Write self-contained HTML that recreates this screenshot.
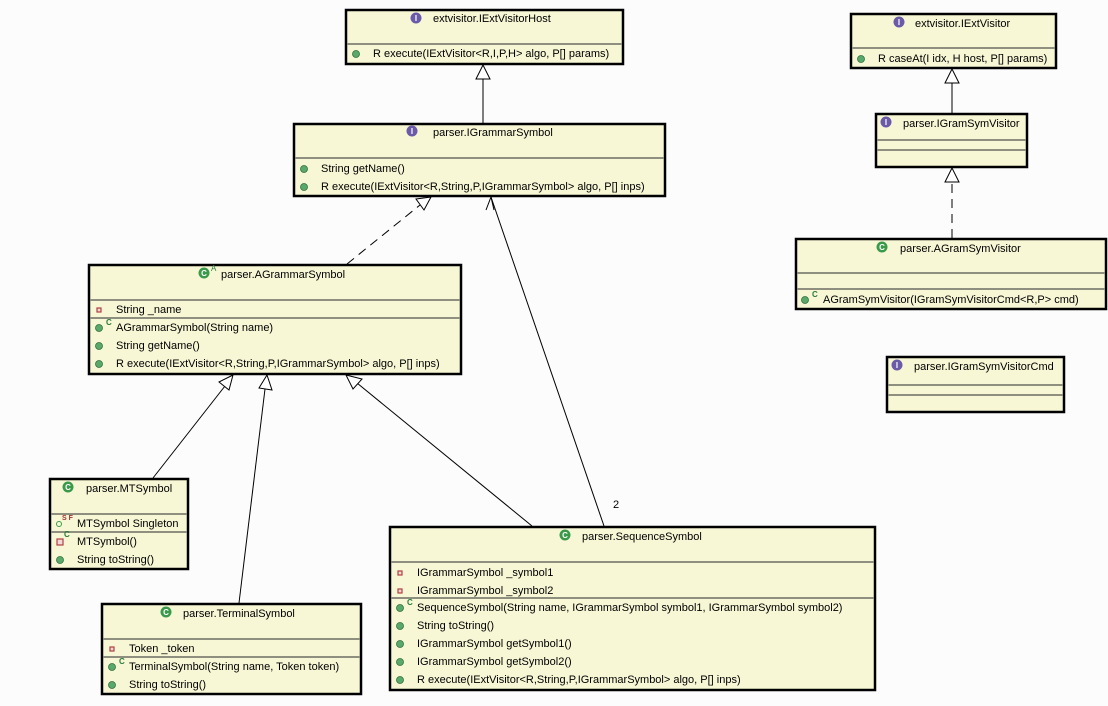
<!DOCTYPE html>
<html><head><meta charset="utf-8"><style>
body{margin:0;background:#fcfcfc;}
svg{display:block;font-family:"Liberation Sans",sans-serif;font-size:11px;}
.b{fill:#f7f7d6;stroke:#000;stroke-width:2.5}
.s{stroke:#8f8f80;stroke-width:2}
.d{fill:#5aa86a;stroke:#2f7040;stroke-width:.8}
.f{fill:#f0d8d8;stroke:#b04040;stroke-width:1.2}
.ci{fill:#3a9a4a}
.ii{fill:#6a5aa8}
.g{fill:#fff;font-size:8px;font-weight:bold;text-anchor:middle}
.l{stroke:#000;stroke-width:1;fill:none}
.t{fill:#fff;stroke:#000;stroke-width:1}
</style></head><body>
<svg width="1108" height="706" viewBox="0 0 1108 706">
<!-- connectors -->
<line class="l" x1="483" y1="123" x2="483" y2="78"/><polygon class="t" points="483,65 476,79 490,79"/>
<line class="l" x1="952" y1="113" x2="952" y2="82"/><polygon class="t" points="952,69 945,83 959,83"/>
<line class="l" x1="952" y1="238" x2="952" y2="182" stroke-dasharray="9,6"/><polygon class="t" points="952,168 945,182 959,182"/>
<line class="l" x1="347" y1="264" x2="420" y2="205" stroke-dasharray="9,6"/><polygon class="t" points="431,197 416,199 424,210"/>
<line class="l" x1="153" y1="478" x2="225" y2="386"/><polygon class="t" points="233,375 219,382 229,390"/>
<line class="l" x1="239" y1="603" x2="265" y2="389"/><polygon class="t" points="267,375 259,388 272,390"/>
<line class="l" x1="532" y1="526" x2="357" y2="383"/><polygon class="t" points="346,375 353,389 362,379"/>
<line class="l" x1="604" y1="526" x2="491" y2="197"/><polyline class="l" points="486,210 491,197 494,210"/>
<text x="613" y="508">2</text>

<!-- IExtVisitorHost -->
<rect class="b" x="346" y="10" width="277" height="54"/>
<line class="s" x1="347" y1="44" x2="622" y2="44"/>
<circle class="ii" cx="416" cy="18" r="5.5"/><text class="g" x="416" y="21">I</text><text x="433" y="22">extvisitor.IExtVisitorHost</text>
<circle class="d" cx="356" cy="54" r="3.5"/><text x="373" y="57">R execute(IExtVisitor&lt;R,I,P,H&gt; algo, P[] params)</text>

<!-- IExtVisitor -->
<rect class="b" x="851" y="14" width="205" height="54"/>
<line class="s" x1="852" y1="48" x2="1055" y2="48"/>
<circle class="ii" cx="899" cy="22" r="5.5"/><text class="g" x="899" y="25">I</text><text x="915" y="27">extvisitor.IExtVisitor</text>
<circle class="d" cx="861" cy="59" r="3.5"/><text x="878" y="62">R caseAt(I idx, H host, P[] params)</text>

<!-- IGrammarSymbol -->
<rect class="b" x="294" y="124" width="371" height="72"/>
<line class="s" x1="295" y1="158" x2="664" y2="158"/>
<circle class="ii" cx="412" cy="131" r="5.5"/><text class="g" x="412" y="134">I</text><text x="433" y="136">parser.IGrammarSymbol</text>
<circle class="d" cx="304" cy="169" r="3.5"/><text x="321" y="172">String getName()</text>
<circle class="d" cx="304" cy="187" r="3.5"/><text x="321" y="190">R execute(IExtVisitor&lt;R,String,P,IGrammarSymbol&gt; algo, P[] inps)</text>

<!-- IGramSymVisitor -->
<rect class="b" x="876" y="114" width="151" height="53"/>
<line class="s" x1="877" y1="140" x2="1026" y2="140"/>
<line class="s" x1="877" y1="150" x2="1026" y2="150"/>
<circle class="ii" cx="886" cy="122" r="5.5"/><text class="g" x="886" y="125">I</text><text x="903" y="127">parser.IGramSymVisitor</text>

<!-- AGramSymVisitor -->
<rect class="b" x="796" y="239" width="310" height="70"/>
<line class="s" x1="797" y1="273" x2="1105" y2="273"/>
<line class="s" x1="797" y1="289" x2="1105" y2="289"/>
<circle class="ci" cx="882" cy="247" r="5.5"/><text class="g" x="882" y="250">C</text><text x="900" y="252">parser.AGramSymVisitor</text>
<circle class="d" cx="805" cy="300" r="3.5"/><text x="812" y="297" font-size="8" font-weight="bold" fill="#2a7a3a">C</text><text x="823" y="303">AGramSymVisitor(IGramSymVisitorCmd&lt;R,P&gt; cmd)</text>

<!-- IGramSymVisitorCmd -->
<rect class="b" x="887" y="357" width="177" height="55"/>
<line class="s" x1="888" y1="385" x2="1063" y2="385"/>
<line class="s" x1="888" y1="395" x2="1063" y2="395"/>
<circle class="ii" cx="897" cy="365" r="5.5"/><text class="g" x="897" y="368">I</text><text x="914" y="370">parser.IGramSymVisitorCmd</text>

<!-- AGrammarSymbol -->
<rect class="b" x="89" y="265" width="372" height="109"/>
<line class="s" x1="90" y1="300" x2="460" y2="300"/>
<line class="s" x1="90" y1="318" x2="460" y2="318"/>
<circle class="ci" cx="204" cy="273" r="5.5"/><text class="g" x="204" y="276">C</text><text x="211" y="271" font-size="8" fill="#2a7a3a">A</text><text x="221" y="278">parser.AGrammarSymbol</text>
<rect class="f" x="97" y="308" width="4" height="4"/><text x="116" y="313">String _name</text>
<circle class="d" cx="99" cy="328" r="3.5"/><text x="106" y="325" font-size="8" font-weight="bold" fill="#2a7a3a">C</text><text x="116" y="331">AGrammarSymbol(String name)</text>
<circle class="d" cx="99" cy="346" r="3.5"/><text x="116" y="349">String getName()</text>
<circle class="d" cx="99" cy="364" r="3.5"/><text x="116" y="367">R execute(IExtVisitor&lt;R,String,P,IGrammarSymbol&gt; algo, P[] inps)</text>

<!-- MTSymbol -->
<rect class="b" x="50" y="479" width="138" height="90"/>
<line class="s" x1="51" y1="514" x2="187" y2="514"/>
<line class="s" x1="51" y1="532" x2="187" y2="532"/>
<circle class="ci" cx="68" cy="487" r="5.5"/><text class="g" x="68" y="490">C</text><text x="86" y="492">parser.MTSymbol</text>
<circle cx="59" cy="524" r="2.5" fill="none" stroke="#3a9a4a"/><text x="62" y="520" font-size="7" font-weight="bold" fill="#a03030">S F</text><text x="77" y="527">MTSymbol Singleton</text>
<rect class="f" x="57" y="539" width="6" height="6" fill="#d04040"/><text x="64" y="537" font-size="8" font-weight="bold" fill="#2a7a3a">C</text><text x="77" y="545">MTSymbol()</text>
<circle class="d" cx="60" cy="560" r="3.5"/><text x="77" y="563">String toString()</text>

<!-- TerminalSymbol -->
<rect class="b" x="102" y="604" width="259" height="90"/>
<line class="s" x1="103" y1="639" x2="360" y2="639"/>
<line class="s" x1="103" y1="657" x2="360" y2="657"/>
<circle class="ci" cx="166" cy="612" r="5.5"/><text class="g" x="166" y="615">C</text><text x="183" y="617">parser.TerminalSymbol</text>
<rect class="f" x="110" y="647" width="4" height="4"/><text x="129" y="652">Token _token</text>
<circle class="d" cx="112" cy="667" r="3.5"/><text x="119" y="664" font-size="8" font-weight="bold" fill="#2a7a3a">C</text><text x="129" y="670">TerminalSymbol(String name, Token token)</text>
<circle class="d" cx="112" cy="685" r="3.5"/><text x="129" y="688">String toString()</text>

<!-- SequenceSymbol -->
<rect class="b" x="390" y="527" width="485" height="163"/>
<line class="s" x1="391" y1="562" x2="874" y2="562"/>
<line class="s" x1="391" y1="598" x2="874" y2="598"/>
<circle class="ci" cx="565" cy="535" r="5.5"/><text class="g" x="565" y="538">C</text><text x="582" y="540">parser.SequenceSymbol</text>
<rect class="f" x="398" y="571" width="4" height="4"/><text x="417" y="576">IGrammarSymbol _symbol1</text>
<rect class="f" x="398" y="589" width="4" height="4"/><text x="417" y="594">IGrammarSymbol _symbol2</text>
<circle class="d" cx="400" cy="608" r="3.5"/><text x="407" y="605" font-size="8" font-weight="bold" fill="#2a7a3a">C</text><text x="417" y="611">SequenceSymbol(String name, IGrammarSymbol symbol1, IGrammarSymbol symbol2)</text>
<circle class="d" cx="400" cy="626" r="3.5"/><text x="417" y="629">String toString()</text>
<circle class="d" cx="400" cy="644" r="3.5"/><text x="417" y="647">IGrammarSymbol getSymbol1()</text>
<circle class="d" cx="400" cy="662" r="3.5"/><text x="417" y="665">IGrammarSymbol getSymbol2()</text>
<circle class="d" cx="400" cy="680" r="3.5"/><text x="417" y="683">R execute(IExtVisitor&lt;R,String,P,IGrammarSymbol&gt; algo, P[] inps)</text>
</svg>
</body></html>
